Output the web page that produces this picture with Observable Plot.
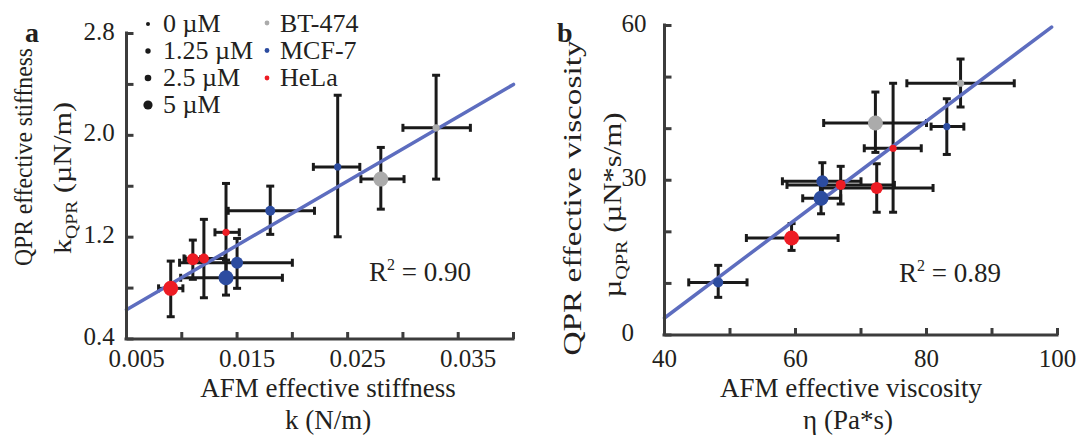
<!DOCTYPE html>
<html><head><meta charset="utf-8">
<script src="https://cdn.jsdelivr.net/npm/d3@7"></script>
<script src="https://cdn.jsdelivr.net/npm/@observablehq/plot@0.6"></script>
<style>
html,body{margin:0;padding:0;background:#fff;}
#wrap{position:relative;width:1084px;height:437px;overflow:hidden;}
#wrap > svg{position:absolute;top:0;}
</style></head><body><div id="wrap"></div>
<script>
// ---------------- data ----------------
const cellLines = ["BT-474", "MCF-7", "HeLa"];
const cellColors = ["#ababab", "#2c4ca0", "#ed1c24"];
const concLevels = [0, 1.25, 2.5, 5];
const concLabels = ["0 µM", "1.25 µM", "2.5 µM", "5 µM"];

// one entry per measured condition (same order in both panels)
const pointLine = ["BT-474", "BT-474", "MCF-7", "MCF-7", "MCF-7", "MCF-7", "HeLa", "HeLa", "HeLa", "HeLa"];
const pointConc = [0, 5, 0, 1.25, 2.5, 5, 0, 1.25, 2.5, 5];

// panel a: stiffness
const aX   = [0.0330, 0.0280, 0.0241, 0.0180, 0.0150, 0.0140, 0.0140, 0.0120, 0.0110, 0.0090];
const aY   = [2.059, 1.656, 1.752, 1.407, 0.999, 0.881, 1.238, 1.033, 1.026, 0.798];
const aXlo = [0.0300, 0.0262, 0.0219, 0.0142, 0.0098, 0.0099, 0.0130, 0.0102, 0.0103, 0.0079];
const aXhi = [0.0361, 0.0301, 0.0261, 0.0220, 0.0200, 0.0191, 0.0152, 0.0139, 0.0117, 0.0101];
const aYlo = [1.656, 1.420, 1.203, 1.222, 0.798, 0.745, 0.854, 0.724, 0.869, 0.575];
const aYhi = [2.472, 1.905, 2.315, 1.601, 1.190, 1.020, 1.622, 1.340, 1.177, 1.012];
const aFitX = [0.005, 0.040];
const aFitY = [0.63, 2.40];
const aXTicks = [0.005, 0.01, 0.015, 0.02, 0.025, 0.03, 0.035, 0.04];
const aXLabels = [0.005, 0.015, 0.025, 0.035];
const aYTicks = [0.4, 0.8, 1.2, 1.6, 2.0, 2.4, 2.8];
const aYLabels = [0.4, 1.2, 2.0, 2.8];
const aR2 = "0.90";

// panel b: viscosity
const bX   = [85.2, 72.2, 83.1, 48.2, 64.1, 63.9, 74.9, 66.9, 72.4, 59.4];
const bY   = [48.8, 41.1, 40.4, 10.2, 29.8, 26.5, 36.2, 29.1, 28.5, 18.8];
const bXlo = [77.0, 64.3, 80.7, 43.7, 58.0, 61.1, 70.5, 58.7, 63.8, 52.5];
const bXhi = [93.4, 80.0, 85.7, 52.6, 70.0, 66.9, 79.2, 75.1, 81.0, 66.5];
const bYlo = [44.2, 35.4, 35.0, 7.3, 26.3, 23.5, 23.8, 25.4, 23.8, 16.4];
const bYhi = [53.5, 47.1, 45.8, 13.5, 33.4, 29.6, 48.8, 32.7, 33.2, 21.6];
const bFitX = [40, 99.1];
const bFitY = [3.3, 59.7];
const bXTicks = [40, 50, 60, 70, 80, 90, 100];
const bXLabels = [40, 60, 80, 100];
const bYTicks = [0, 10, 20, 30, 40, 50, 60];
const bYLabels = [0, 30, 60];
const bR2 = "0.89";

// ---------------- drawing ----------------
const FONT = "'Liberation Serif', 'Times New Roman', serif";
const INK = "#1a1a1a", AXIS = "#3c3c3c", TXT = "#231f20";

const seg = (dx, dy) => ({draw(ctx, size) { const l = Math.sqrt(size / Math.PI); ctx.moveTo(-dx * l, -dy * l); ctx.lineTo(dx * l, dy * l); }});
const capV = seg(0, 1), capH = seg(1, 0);
const tickUp = {draw(ctx, size) { const l = Math.sqrt(size / Math.PI); ctx.moveTo(0, 0); ctx.lineTo(0, -l); }};
const tickRight = {draw(ctx, size) { const l = Math.sqrt(size / Math.PI); ctx.moveTo(0, 0); ctx.lineTo(l, 0); }};

function panel(o) {
  const pts = pointLine.map((line, i) => ({line, conc: pointConc[i], x: o.x[i], y: o.y[i],
    xlo: o.xlo[i], xhi: o.xhi[i], ylo: o.ylo[i], yhi: o.yhi[i]}));
  const fit = o.fitX.map((x, i) => ({x, y: o.fitY[i]}));
  const x0 = o.xTicks[0], x1 = o.xTicks[o.xTicks.length - 1];
  const y0 = o.yTicks[0], y1 = o.yTicks[o.yTicks.length - 1];
  return Plot.plot({
    width: o.width, height: 437,
    marginLeft: o.ml, marginRight: o.mr, marginTop: o.mt, marginBottom: o.mb,
    x: {domain: [x0, x1], axis: null},
    y: {domain: [y0, y1], axis: null},
    r: {domain: concLevels, range: [3.6, 5, 6, 7.5]},
    color: {domain: cellLines, range: cellColors},
    style: {fontFamily: FONT, fontSize: "25px", background: "none", overflow: "visible"},
    marks: [
      Plot.ruleY(pts, {y: "y", x1: "xlo", x2: "xhi", stroke: INK, strokeWidth: 3}),
      Plot.ruleX(pts, {x: "x", y1: "ylo", y2: "yhi", stroke: INK, strokeWidth: 3}),
      Plot.dot(pts, {x: "xlo", y: "y", symbol: capV, r: 4, stroke: INK, strokeWidth: 3, fill: "none"}),
      Plot.dot(pts, {x: "xhi", y: "y", symbol: capV, r: 4, stroke: INK, strokeWidth: 3, fill: "none"}),
      Plot.dot(pts, {x: "x", y: "ylo", symbol: capH, r: 4, stroke: INK, strokeWidth: 3, fill: "none"}),
      Plot.dot(pts, {x: "x", y: "yhi", symbol: capH, r: 4, stroke: INK, strokeWidth: 3, fill: "none"}),
      Plot.line(fit, {x: "x", y: "y", stroke: "#5d6dbf", strokeWidth: 3.5}),
      Plot.dot(pts, {x: "x", y: "y", r: "conc", fill: "line", stroke: "none"}),
      Plot.ruleX([x0], {stroke: AXIS, strokeWidth: 3, strokeLinecap: "square"}),
      Plot.ruleY([y0], {stroke: AXIS, strokeWidth: 3, strokeLinecap: "square"}),
      Plot.dot(o.xTicks, {x: d => d, y: () => y0, symbol: tickUp, r: 7, stroke: AXIS, strokeWidth: 3, fill: "none"}),
      Plot.dot(o.yTicks, {x: () => x0, y: d => d, symbol: tickRight, r: 7, stroke: AXIS, strokeWidth: 3, fill: "none"}),
      Plot.text(o.yLabels, {y: d => d, frameAnchor: "left", textAnchor: "start", dx: -43, dy: -2, text: o.yFmt, fill: TXT, fontSize: 25}),
      Plot.text(o.xLabels, {x: d => d, frameAnchor: "bottom", lineAnchor: "top", dy: o.xdy, dx: o.xdx, text: o.xFmt, fill: TXT, fontSize: 25})
    ]
  });
}

function rich(svg, x, y, parts, {rotate = 0, anchor = "middle", size = 26, weight = null, len = null} = {}) {
  const t = d3.select(svg).append("text")
    .attr("transform", `translate(${x},${y})` + (rotate ? ` rotate(${rotate})` : ""))
    .attr("text-anchor", anchor).attr("font-size", size).attr("fill", TXT)
    .attr("font-family", FONT);
  if (weight) t.attr("font-weight", weight);
  if (len) t.attr("textLength", len).attr("lengthAdjust", "spacingAndGlyphs");
  let pending = 0;
  for (const p of parts) {
    const s = t.append("tspan");
    if (typeof p === "string") {
      if (pending) s.attr("dy", -pending);
      pending = 0;
      s.text(p);
    } else {
      s.attr("font-size", p.size).attr("dy", p.shift - pending).text(p.t);
      pending = p.shift;
    }
  }
  return t;
}

const wrap = document.getElementById("wrap");

const svgA = panel({
  x: aX, y: aY, xlo: aXlo, xhi: aXhi, ylo: aYlo, yhi: aYhi, fitX: aFitX, fitY: aFitY,
  xTicks: aXTicks, yTicks: aYTicks, xLabels: aXLabels, yLabels: aYLabels,
  xFmt: d => d.toFixed(3), yFmt: d => d.toFixed(1), xdx: 10, xdy: 10,
  width: 540, ml: 126, mr: 27, mt: 33, mb: 98.5
});
svgA.style.left = "0px";
wrap.appendChild(svgA);

const svgB = panel({
  x: bX, y: bY, xlo: bXlo, xhi: bXhi, ylo: bYlo, yhi: bYhi, fitX: bFitX, fitY: bFitY,
  xTicks: bXTicks, yTicks: bYTicks, xLabels: bXLabels, yLabels: bYLabels,
  xFmt: d => String(d), yFmt: d => String(d), xdx: 0, xdy: 14,
  width: 544, ml: 124, mr: 27, mt: 25, mb: 102.5
});
svgB.style.left = "540px";
wrap.appendChild(svgB);

// panel letters
rich(svgA, 25, 42, ["a"], {anchor: "start", size: 28, weight: "bold"});
rich(svgB, 17, 42, ["b"], {anchor: "start", size: 28, weight: "bold"});

// axis titles
const SUB = {size: 17, shift: 6};
rich(svgA, 328, 397, ["AFM effective stiffness"], {size: 27});
rich(svgA, 328, 429, ["k (N/m)"], {size: 27});
rich(svgA, 32, 157, ["QPR effective stiffness"], {rotate: -90, size: 25, len: 218});
rich(svgA, 71, 178, ["k", {t: "QPR", ...SUB}, " (µN/m)"], {rotate: -90, size: 26, len: 152});

rich(svgB, 311, 397, ["AFM effective viscosity"], {size: 27});
rich(svgB, 308, 429, ["η (Pa*s)"], {size: 27});
rich(svgB, 41, 198, ["QPR effective viscosity"], {rotate: -90, size: 26, len: 315});
rich(svgB, 81, 205, ["µ", {t: "QPR", ...SUB}, " (µN*s/m)"], {rotate: -90, size: 26, len: 185});

// R² annotations
const SUP = {size: 16, shift: -11};
rich(svgA, 369, 281, ["R", {t: "2", ...SUP}, " = " + aR2], {anchor: "start", size: 27});
rich(svgB, 359, 282, ["R", {t: "2", ...SUP}, " = " + bR2], {anchor: "start", size: 27});

// legend (concentration = dot size, cell line = colour)
const legendRadii = [2, 2.7, 3.3, 4.6];
const lg = d3.select(svgA).append("g").attr("font-family", FONT).attr("font-size", 26)
  .attr("fill", TXT).attr("text-anchor", "start");
concLabels.forEach((lab, i) => {
  lg.append("circle").attr("cx", 148).attr("cy", 24 + 27 * i).attr("r", legendRadii[i]).attr("fill", INK);
  lg.append("text").attr("x", 163).attr("y", 32 + 27 * i).text(lab);
});
cellLines.forEach((lab, i) => {
  lg.append("circle").attr("cx", 267).attr("cy", 23 + 27.5 * i).attr("r", 2.4).attr("fill", cellColors[i]);
  lg.append("text").attr("x", 280).attr("y", 32 + 27 * i).text(lab);
});
</script></body></html>
